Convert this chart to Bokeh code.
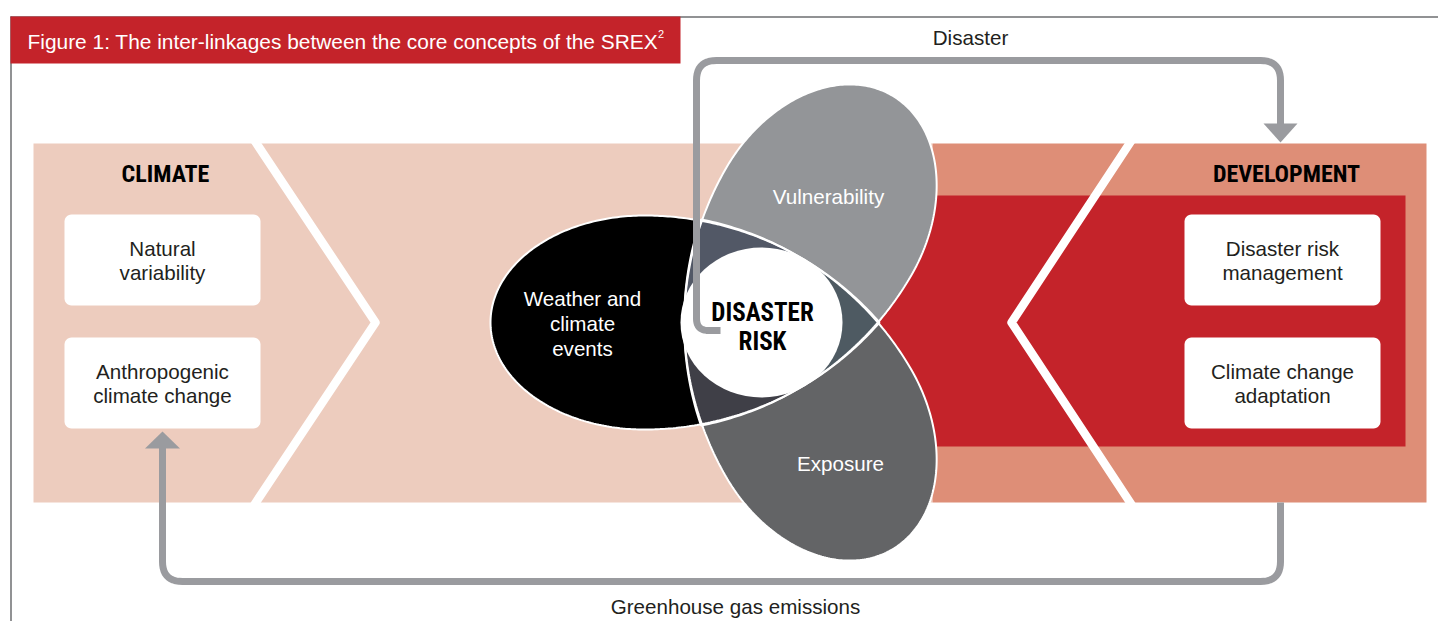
import numpy as np
from bokeh.plotting import figure
from bokeh.models import Range1d
from bokeh.core.properties import value
from bokeh.embed import file_html
from bokeh.resources import INLINE

# ---------------- data (texts of the diagram) ----------------
TITLE = "Figure 1: The inter-linkages between the core concepts of the SREX"
TITLE_NOTE = "2"
HEADERS = ["CLIMATE", "DEVELOPMENT"]
CLIMATE_BOXES = [["Natural", "variability"], ["Anthropogenic", "climate change"]]
DEVELOPMENT_BOXES = [["Disaster risk", "management"], ["Climate change", "adaptation"]]
WEATHER_LABEL = ["Weather and", "climate", "events"]
VULNERABILITY_LABEL = ["Vulnerability"]
EXPOSURE_LABEL = ["Exposure"]
CENTRE_LABEL = ["DISASTER", "RISK"]
FEEDBACK_LABELS = ["Disaster", "Greenhouse gas emissions"]

# ---------------- styling ----------------
RED = "#C4232A"
PEACH = "#EDCCBE"
SALMON = "#DE8E77"
ARROW = "#9A9B9F"
FRAME = "#6D6E71"
WEATHER_C = "#000000"
VULN_C = "#939598"
EXPO_C = "#636466"
POCKET_A = "#525866"   # towards exposure tip (upper left)
POCKET_B = "#4E5A62"   # towards weather tip (right)
POCKET_C = "#3F3F47"   # towards vulnerability tip (lower left)
TXT = "#231F20"
FONT = "Liberation Sans"
NARROW = "Roboto Condensed, DejaVu Sans Condensed, Liberation Sans Narrow, Roboto, sans-serif"
FS = "20.6px"

W, H = 1438, 621
p = figure(width=W, height=H, x_range=Range1d(0, W), y_range=Range1d(H, 0),
           output_backend="svg", toolbar_location=None, min_border=0,
           x_axis_type=None, y_axis_type=None, title=None,
           background_fill_color="white", border_fill_color="white",
           outline_line_color=None)

# ---------------- helpers ----------------
def rounded_rect(x0, y0, x1, y1, r, n=8):
    xs, ys = [], []
    for cx, cy, a0, a1 in [(x1 - r, y0 + r, -90, 0), (x1 - r, y1 - r, 0, 90),
                           (x0 + r, y1 - r, 90, 180), (x0 + r, y0 + r, 180, 270)]:
        for t in np.radians(np.linspace(a0, a1, n)):
            xs.append(cx + r * np.cos(t))
            ys.append(cy + r * np.sin(t))
    return xs, ys


def rounded_path(pts, radii, n=12):
    out = [np.array(pts[0], float)]
    for i in range(1, len(pts) - 1):
        a, b, c = (np.array(q, float) for q in (pts[i - 1], pts[i], pts[i + 1]))
        d1 = (a - b) / np.linalg.norm(a - b)
        d2 = (c - b) / np.linalg.norm(c - b)
        p1, p2 = b + d1 * radii[i - 1], b + d2 * radii[i - 1]
        for t in np.linspace(0, 1, n):
            out.append((1 - t) ** 2 * p1 + 2 * (1 - t) * t * b + t ** 2 * p2)
    out.append(np.array(pts[-1], float))
    return [q[0] for q in out], [q[1] for q in out]


# petal geometry (three tear-drops, rotated by 120 deg around PX, PY)
PX, PY = 760.0, 322.0
UT, UW = 119.0, -116.4
BW = 107.0
R_ARC = ((UT - UW) ** 2 + BW ** 2) / (2 * BW)
K_ARC = R_ARC - BW


def petal(angle_deg, a_back, n=90):
    u1 = np.linspace(UT, UW, n)
    v1 = np.sqrt(np.clip(R_ARC ** 2 - (u1 - UW) ** 2, 0, None)) - K_ARC
    t = np.linspace(np.pi / 2, 1.5 * np.pi, 2 * n)[1:-1]
    u2 = UW + a_back * np.cos(t)
    v2 = BW * np.sin(t)
    u3 = np.linspace(UW, UT, n)[:-1]
    v3 = -(np.sqrt(np.clip(R_ARC ** 2 - (u3 - UW) ** 2, 0, None)) - K_ARC)
    u = np.concatenate([u1, u2, u3])
    v = np.concatenate([v1, v2, v3])
    al = np.radians(angle_deg)
    X = u * np.cos(al) - v * np.sin(al)
    Y = u * np.sin(al) + v * np.cos(al)
    return list(zip(PX + X, PY - Y))


def clip(subject, clipper):
    area = 0.0
    for i in range(len(clipper)):
        x1, y1 = clipper[i]
        x2, y2 = clipper[(i + 1) % len(clipper)]
        area += x1 * y2 - x2 * y1
    s = 1.0 if area > 0 else -1.0
    out = list(subject)
    for i in range(len(clipper)):
        a = clipper[i]
        b = clipper[(i + 1) % len(clipper)]
        if not out:
            break
        inp, out = out, []

        def side(q):
            return s * ((b[0] - a[0]) * (q[1] - a[1]) - (b[1] - a[1]) * (q[0] - a[0]))

        prev = inp[-1]
        for cur in inp:
            sc, sp = side(cur), side(prev)
            if sc >= 0:
                if sp < 0:
                    tt = sp / (sp - sc)
                    out.append((prev[0] + tt * (cur[0] - prev[0]), prev[1] + tt * (cur[1] - prev[1])))
                out.append(cur)
            elif sp >= 0:
                tt = sp / (sp - sc)
                out.append((prev[0] + tt * (cur[0] - prev[0]), prev[1] + tt * (cur[1] - prev[1])))
            prev = cur
    return out


def sector(center_deg, L=600):
    pts = [(PX, PY)]
    for d in (center_deg - 60, center_deg, center_deg + 60):
        r = np.radians(d)
        pts.append((PX + L * np.cos(r), PY - L * np.sin(r)))
    return pts


def xy(poly):
    return [q[0] for q in poly], [q[1] for q in poly]


# ---------------- frame + title ----------------
p.line([10, 1440], [16.5, 16.5], line_color=FRAME, line_width=1.5)
p.line([10.5, 10.5], [16, 630], line_color=FRAME, line_width=1.5)
p.quad(left=[10], right=[680], top=[16], bottom=[63], fill_color=RED, line_color=None)
p.text(x=[27], y=[40.5], text=[TITLE], text_color="white", text_font=value(FONT),
       text_font_size="20.9px", text_align="left", text_baseline="middle")
p.text(x=[657.5], y=[33], text=[TITLE_NOTE], text_color="white", text_font=value(FONT),
       text_font_size="11px", text_align="left", text_baseline="middle")

# ---------------- background band ----------------
p.quad(left=[33, 932], right=[932, 1426], top=[143, 143], bottom=[502, 502],
       fill_color=[PEACH, SALMON], line_color=None)
p.quad(left=[860], right=[1405], top=[195], bottom=[446], fill_color=RED, line_color=None)

for top, apex in [((256, 143), (375, 322)), ((1129, 143), (1011, 322))]:
    d = np.array(top, float) - np.array(apex, float)
    d = d / np.linalg.norm(d) * 12
    t0 = (top[0] + d[0], top[1] + d[1])
    b0 = (top[0] + d[0], 2 * apex[1] - top[1] - d[1])
    p.line([t0[0], apex[0], b0[0]], [t0[1], apex[1], b0[1]], line_color="white",
           line_width=8.5, line_join="round")

# ---------------- white boxes ----------------
box_rows = [(214, 305), (337, 428)]
for (bx0, bx1), labels in [((64, 260), CLIMATE_BOXES), ((1184, 1380), DEVELOPMENT_BOXES)]:
    for (by0, by1), lines in zip(box_rows, labels):
        xs, ys = rounded_rect(bx0, by0, bx1, by1, 7)
        p.patch(xs, ys, fill_color="white", line_color=None)
        cy = (by0 + by1) / 2
        p.text(x=[(bx0 + bx1) / 2] * 2, y=[cy - 12, cy + 12.5], text=lines, text_color=TXT,
               text_font=value(FONT), text_font_size=FS, text_align="center",
               text_baseline="middle")

p.text(x=[165, 1286], y=[173, 173], text=HEADERS, text_color="black",
       text_font=value(NARROW), text_font_style="bold", text_font_size="24px",
       text_align="center", text_baseline="middle")

# ---------------- petals ----------------
weather = petal(0, 153.6)
expo = petal(120, 146)
vuln = petal(240, 146)

for poly, col in [(weather, WEATHER_C), (vuln, VULN_C), (expo, EXPO_C)]:
    xs, ys = xy(poly)
    p.patch(xs, ys, fill_color=col, line_color=None)

pairs = [(clip(weather, vuln), POCKET_A), (clip(weather, expo), POCKET_C), (clip(vuln, expo), POCKET_B)]
for poly, col in pairs:
    if poly:
        xs, ys = xy(poly)
        p.patch(xs, ys, fill_color=col, line_color=None)

central = clip(clip(weather, vuln), expo)
for ang, col in [(0, POCKET_B), (120, POCKET_A), (240, POCKET_C)]:
    poly = clip(central, sector(ang))
    if poly:
        xs, ys = xy(poly)
        p.patch(xs, ys, fill_color=col, line_color=None)

for poly in (weather, vuln, expo):
    xs, ys = xy(poly)
    p.patch(xs, ys, fill_color=None, line_color="white", line_width=2)

p.ellipse(x=[761], y=[322], width=[162], height=[150], fill_color="white", line_color=None)

# ---------------- feedback arrows ----------------
xs, ys = rounded_path([(720, 330), (696, 330), (696, 60), (1280, 60), (1280, 124)], [12, 20, 20])
p.line(xs, ys, line_color=ARROW, line_width=7)
p.patch([1263, 1297, 1280], [123, 123, 142], fill_color=ARROW, line_color=None)

xs, ys = rounded_path([(1280, 502), (1280, 581), (162, 581), (162, 447)], [20, 20])
p.line(xs, ys, line_color=ARROW, line_width=7)
p.patch([144.5, 179.5, 162], [448, 448, 431], fill_color=ARROW, line_color=None)

# ---------------- labels ----------------
p.text(x=[582] * 3, y=[298, 323, 347.5], text=WEATHER_LABEL, text_color="white",
       text_font=value(FONT), text_font_size=FS, text_align="center", text_baseline="middle")
p.text(x=[828], y=[196], text=VULNERABILITY_LABEL, text_color="white",
       text_font=value(FONT), text_font_size=FS, text_align="center", text_baseline="middle")
p.text(x=[840], y=[463], text=EXPOSURE_LABEL, text_color="white",
       text_font=value(FONT), text_font_size=FS, text_align="center", text_baseline="middle")
p.text(x=[762, 762], y=[312, 341], text=CENTRE_LABEL, text_color="black",
       text_font=value(NARROW), text_font_style="bold", text_font_size="25px",
       text_align="center", text_baseline="middle")
p.text(x=[970, 735], y=[37, 605.5], text=FEEDBACK_LABELS, text_color=TXT,
       text_font=value(FONT), text_font_size=FS, text_align="center", text_baseline="middle")

open("out.html", "w").write(file_html(p, INLINE))
